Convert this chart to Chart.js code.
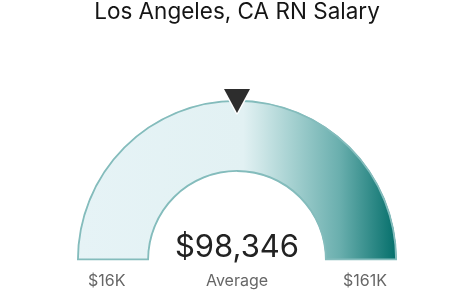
<!DOCTYPE html>
<html>
<head>
<meta charset="utf-8">
<script src="https://cdn.jsdelivr.net/npm/chart.js@4.4.1/dist/chart.umd.min.js"></script>
<style>
  html, body { margin: 0; padding: 0; background: #fff; }
  #wrap { width: 474px; height: 303px; position: relative; }
</style>
</head>
<body>
<div id="wrap"><canvas id="gauge"></canvas></div>
<script>
const chartTitle = 'Los Angeles, CA RN Salary'
const salaryMin = 16000
const salaryMax = 161000
const salaryAverage = 98346
const averageLabel = 'Average'

// gradient stops along the arc, left to right
const gradientStops = [0, 0.52, 0.57, 0.67, 0.82, 1]
const gradientColors = ['#e6f3f6', '#e2f1f3', '#cfe7e8', '#a6d1d1', '#6aafae', '#036e6a']

const fontFamily = 'Inter, "Noto Sans", sans-serif'

function shortMoney(v) {
  return '$' + Math.round(v / 1000) + 'K'
}

function arcGradient(context) {
  const chart = context.chart
  const area = chart.chartArea
  if (!area) return gradientColors[0]
  const g = chart.ctx.createLinearGradient(area.left, 0, area.right, 0)
  gradientStops.forEach((s, i) => g.addColorStop(s, gradientColors[i]))
  return g
}

// draws the marker triangle and the labels round the gauge
const gaugeDecor = {
  id: 'gaugeDecor',
  afterDatasetsDraw(chart) {
    const arc = chart.getDatasetMeta(0).data[0]
    if (!arc) return
    const { x, y, outerRadius } = arc.getProps(['x', 'y', 'outerRadius'], true)
    const ctx = chart.ctx
    ctx.save()

    // marker at the middle of the gauge
    const mid = (arc.startAngle + arc.endAngle) / 2
    const tipX = x + Math.cos(mid) * (outerRadius - 13)
    const tipY = y + Math.sin(mid) * (outerRadius - 13)
    ctx.beginPath()
    ctx.moveTo(tipX, tipY)
    ctx.lineTo(tipX - 13, tipY - 24)
    ctx.lineTo(tipX + 13, tipY - 24)
    ctx.closePath()
    ctx.lineJoin = 'round'
    ctx.lineWidth = 3
    ctx.strokeStyle = '#ffffff'
    ctx.stroke()
    ctx.fillStyle = '#2d2d2d'
    ctx.fill()

    // average value
    ctx.fillStyle = '#222222'
    ctx.textAlign = 'center'
    ctx.textBaseline = 'alphabetic'
    ctx.font = '31px ' + fontFamily
    ctx.fillText('$' + salaryAverage.toLocaleString('en-US'), x, y - 3)

    ctx.fillStyle = '#666666'
    ctx.font = '16px ' + fontFamily
    ctx.textBaseline = 'middle'
    ctx.fillText(averageLabel, x, y + 21)

    ctx.textAlign = 'left'
    ctx.fillText(shortMoney(salaryMin), x - outerRadius + 11, y + 21)
    ctx.textAlign = 'right'
    ctx.fillText(shortMoney(salaryMax), x + outerRadius - 10, y + 21)

    ctx.restore()
  }
}

new Chart(document.getElementById('gauge'), {
  type: 'doughnut',
  data: {
    labels: [averageLabel],
    datasets: [{
      data: [salaryMax - salaryMin],
      backgroundColor: arcGradient,
      borderColor: '#84bcbc',
      borderWidth: 1.5,
      borderAlign: 'inner'
    }]
  },
  options: {
    responsive: true,
    maintainAspectRatio: false,
    animation: false,
    rotation: -90,
    circumference: 180,
    cutout: '55%',
    layout: {
      padding: { top: 0, left: 77, right: 77, bottom: 43 }
    },
    plugins: {
      legend: { display: false },
      tooltip: { enabled: false },
      title: {
        display: true,
        text: chartTitle,
        color: '#151515',
        font: { family: fontFamily, size: 22.5, weight: 'normal', lineHeight: 1.1 },
        padding: { top: 0, bottom: 75 }
      }
    }
  },
  plugins: [gaugeDecor]
})
</script>
</body>
</html>
